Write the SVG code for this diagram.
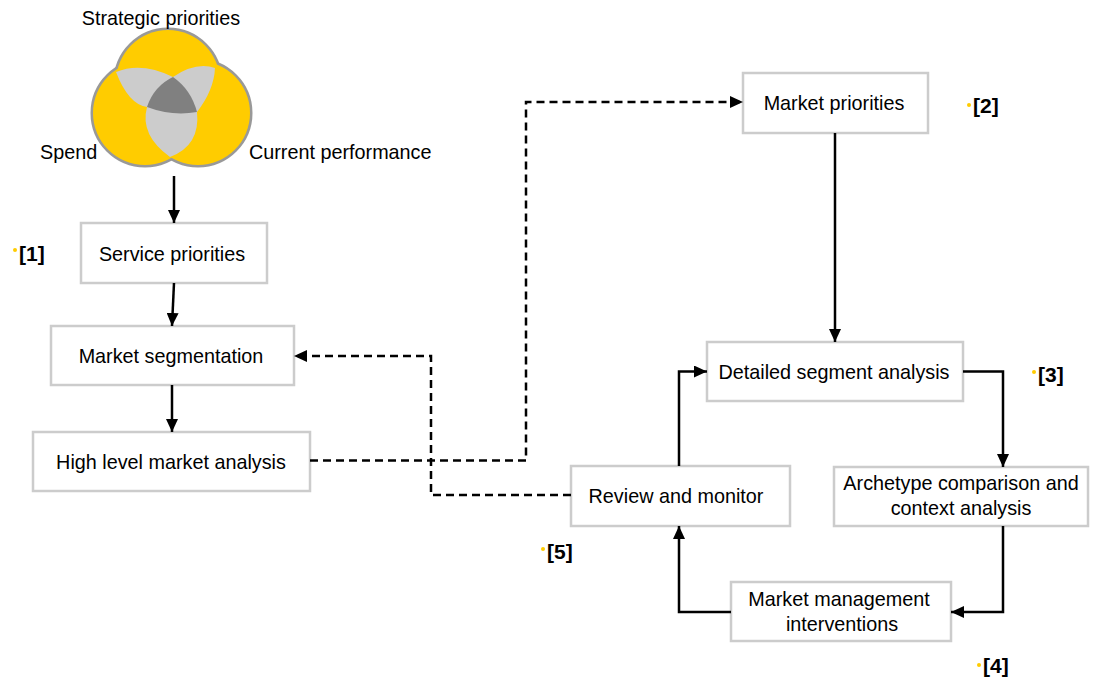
<svg xmlns="http://www.w3.org/2000/svg" width="1103" height="677" viewBox="0 0 1103 677">
  <style>
    .box { fill: #ffffff; stroke: #cccccc; stroke-width: 2.5; }
    .lbl { font-family: "Liberation Sans", Arial, sans-serif; font-size: 19.8px; fill: #000000; text-anchor: middle; }
    .vlbl { font-family: "Liberation Sans", Arial, sans-serif; font-size: 19.8px; fill: #000000; }
    .tag { font-family: "Liberation Sans", Arial, sans-serif; font-size: 21px; font-weight: bold; fill: #000000; }
    .dot { fill: #ffcc00; }
    .solid { fill: none; stroke: #000000; stroke-width: 2.5; marker-end: url(#arrow); }
    .dash { fill: none; stroke: #000000; stroke-width: 2.5; stroke-dasharray: 8 5; marker-end: url(#arrow); }
  </style>
  <defs>
    <marker id="arrow" markerUnits="userSpaceOnUse" markerWidth="14" markerHeight="12" refX="13" refY="6" orient="auto">
      <path d="M0,0 L13,6 L0,12 z" fill="#000000"/>
    </marker>
  </defs>

  <!-- Venn of the three inputs: outline drawn first, fills cover the inner half -->
  <g id="venn">
    <g fill="none" stroke="#999999" stroke-width="5">
      <circle cx="168" cy="82" r="52"/>
      <circle cx="145" cy="113" r="52"/>
      <circle cx="198" cy="113" r="52"/>
    </g>
    <g fill="#ffcc00">
      <circle cx="168" cy="82" r="52"/>
      <circle cx="145" cy="113" r="52"/>
      <circle cx="198" cy="113" r="52"/>
    </g>
    <!-- pairwise overlaps -->
    <path fill="#cccccc" d="M116,72 Q141.5,61.5 173,77 Q196,61.5 215,68 Q214,90 197,112 Q200.5,145.5 170,157 Q139.5,135 147,107 Q128.5,104.5 116,72 Z"/>
    <!-- common core -->
    <path fill="#808080" d="M173,77 Q191,89.5 197,112 Q172,116.5 147,107 Q154,86 173,77 Z"/>
    <text class="lbl" x="161" y="25">Strategic priorities</text>
    <text class="vlbl" x="40" y="159">Spend</text>
    <text class="vlbl" x="249" y="159">Current performance</text>
  </g>

  <g id="service-priorities">
    <rect class="box" x="81" y="223" width="186" height="60"/>
    <text class="lbl" x="172" y="261">Service priorities</text>
  </g>
  <g id="market-segmentation">
    <rect class="box" x="51" y="326" width="243" height="59"/>
    <text class="lbl" x="171" y="363">Market segmentation</text>
  </g>
  <g id="high-level-market-analysis">
    <rect class="box" x="33" y="432" width="277" height="59"/>
    <text class="lbl" x="171" y="469">High level market analysis</text>
  </g>
  <g id="market-priorities">
    <rect class="box" x="743" y="73" width="185" height="60"/>
    <text class="lbl" x="834" y="110">Market priorities</text>
  </g>
  <g id="detailed-segment-analysis">
    <rect class="box" x="707" y="342" width="256" height="59"/>
    <text class="lbl" x="834" y="379">Detailed segment analysis</text>
  </g>
  <g id="review-and-monitor">
    <rect class="box" x="571" y="466" width="219" height="60"/>
    <text class="lbl" x="676" y="503">Review and monitor</text>
  </g>
  <g id="archetype-comparison">
    <rect class="box" x="834" y="467" width="254" height="59"/>
    <text class="lbl" x="961" y="490">Archetype comparison and</text>
    <text class="lbl" x="961" y="515">context analysis</text>
  </g>
  <g id="market-management-interventions">
    <rect class="box" x="731" y="582" width="220" height="59"/>
    <text class="lbl" x="839" y="606">Market management</text>
    <text class="lbl" x="842" y="631">interventions</text>
  </g>

  <!-- step tags -->
  <g id="step-tags">
    <circle class="dot" cx="15" cy="250" r="2"/>
    <text class="tag" x="19" y="261">[1]</text>
    <circle class="dot" cx="969" cy="105" r="2"/>
    <text class="tag" x="973" y="113">[2]</text>
    <circle class="dot" cx="1034" cy="372" r="2"/>
    <text class="tag" x="1038" y="382">[3]</text>
    <circle class="dot" cx="979" cy="665" r="2"/>
    <text class="tag" x="983" y="673">[4]</text>
    <circle class="dot" cx="543" cy="549" r="2"/>
    <text class="tag" x="547" y="559">[5]</text>
  </g>

  <g id="connectors">
    <path class="solid" d="M174,176 V223"/>
    <path class="solid" d="M174,283 L172,326"/>
    <path class="solid" d="M172,385 V432"/>
    <path class="dash" d="M310,460.5 H526 V102 H743"/>
    <path class="dash" d="M571,495 H431 V356 H294"/>
    <path class="solid" d="M835,133 V342"/>
    <path class="solid" d="M963,371.5 H1003 V467"/>
    <path class="solid" d="M1003,526 V612 H951"/>
    <path class="solid" d="M731,612 H679 V526"/>
    <path class="solid" d="M679,466 V371.5 H707"/>
  </g>
</svg>
